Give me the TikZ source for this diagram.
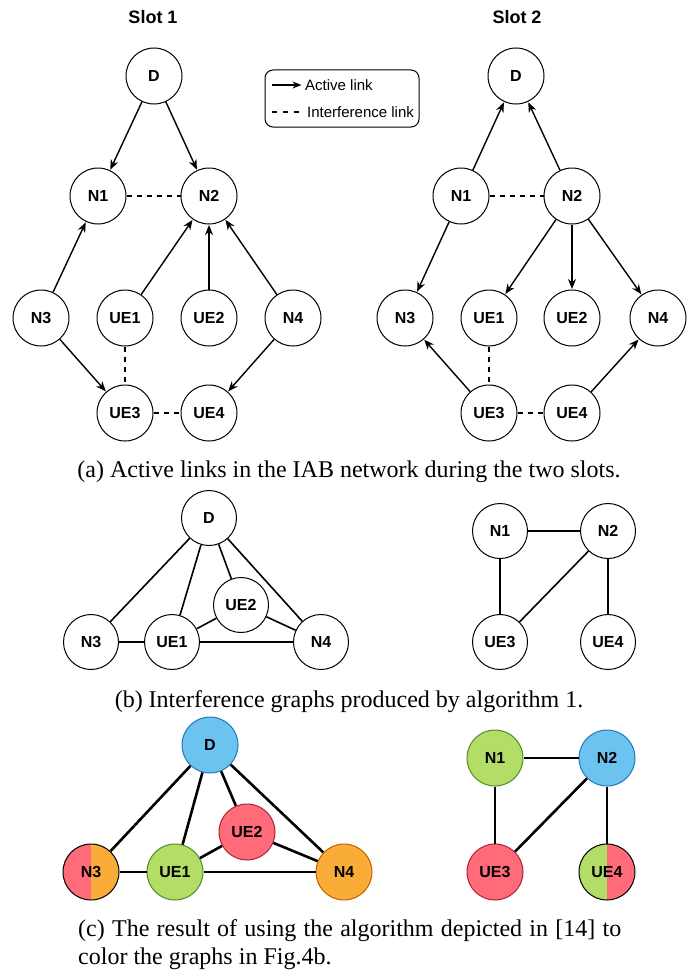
\documentclass[tikz,border=0pt]{standalone}
\usepackage{fontspec}
\setmainfont{Liberation Serif}
\setsansfont{Liberation Sans}
\usetikzlibrary{arrows.meta}
\definecolor{cblue}{HTML}{6CC3EF}
\definecolor{cbluel}{HTML}{1F7AB8}
\definecolor{cred}{HTML}{FF6B78}
\definecolor{credl}{HTML}{B0203A}
\definecolor{cgreen}{HTML}{B4DD67}
\definecolor{cgreenl}{HTML}{4E8F24}
\definecolor{corange}{HTML}{F9AC38}
\definecolor{corangel}{HTML}{C45F00}
\begin{document}
\begin{tikzpicture}[x=1pt,y=-1pt,
  nd/.style={circle, draw, fill=white, minimum size=56pt, inner sep=0pt, line width=1pt,
     font=\sffamily\bfseries\fontsize{16}{16}\selectfont},
  ndb/.style={nd, minimum size=55pt},
  ndc/.style={nd, minimum size=56pt},
  act/.style={-{Stealth[length=10pt,width=8pt]}, line width=1.4pt, shorten >=0.5pt},
  intf/.style={dash pattern=on 5pt off 5pt, line width=1.4pt},
  ed/.style={line width=1.6pt},
  edc/.style={line width=2.6pt},
  slottxt/.style={font=\sffamily\bfseries\fontsize{18}{18}\selectfont},
  captxt/.style={font=\fontsize{24}{28}\selectfont, align=left},
  legtxt/.style={font=\sffamily\fontsize{15}{15}\selectfont, anchor=west, inner sep=0pt},
  bl/.style={fill=cblue, draw=cbluel},
  rd/.style={fill=cred, draw=credl},
  gr/.style={fill=cgreen, draw=cgreenl},
  orn/.style={fill=corange, draw=corangel}
]
\useasboundingbox (0,0) rectangle (697,974);

% ---------- (a) ----------
\node[slottxt] (s1) at (153,17) {Slot 1};
\node[slottxt] (s2) at (517,17) {Slot 2};

% slot 1
\node[nd] (aD) at (154,76) {D};
\node[nd] (aN1) at (98,196) {N1};
\node[nd] (aN2) at (209,196) {N2};
\node[nd] (aN3) at (41,318) {N3};
\node[nd] (aUE1) at (125,318) {UE1};
\node[nd] (aUE2) at (209,318) {UE2};
\node[nd] (aN4) at (293,318) {N4};
\node[nd] (aUE3) at (125,413) {UE3};
\node[nd] (aUE4) at (209,413) {UE4};

\draw[act] (aD) -- (aN1);
\draw[act] (aD) -- (aN2);
\draw[act] (aN3) -- (aN1);
\draw[act] (aUE1) -- (aN2);
\draw[act] (aUE2) -- (aN2);
\draw[act] (aN4) -- (aN2);
\draw[act] (aN3) -- (aUE3);
\draw[act] (aN4) -- (aUE4);
\draw[intf] (aN1) -- (aN2);
\draw[intf] (aUE1) -- (aUE3);
\draw[intf] (aUE3) -- (aUE4);

% slot 2
\node[nd] (bD) at (516,76) {D};
\node[nd] (bN1) at (461,196) {N1};
\node[nd] (bN2) at (572,196) {N2};
\node[nd] (bN3) at (405,318) {N3};
\node[nd] (bUE1) at (489,318) {UE1};
\node[nd] (bUE2) at (572,318) {UE2};
\node[nd] (bN4) at (658,318) {N4};
\node[nd] (bUE3) at (489,413) {UE3};
\node[nd] (bUE4) at (572,413) {UE4};

\draw[act] (bN1) -- (bD);
\draw[act] (bN2) -- (bD);
\draw[act] (bN1) -- (bN3);
\draw[act] (bN2) -- (bUE1);
\draw[act] (bN2) -- (bUE2);
\draw[act] (bN2) -- (bN4);
\draw[act] (bUE3) -- (bN3);
\draw[act] (bUE4) -- (bN4);
\draw[intf] (bN1) -- (bN2);
\draw[intf] (bUE1) -- (bUE3);
\draw[intf] (bUE3) -- (bUE4);

% legend
\node[draw, rounded corners=8pt, line width=1pt, minimum width=154pt, minimum height=57pt] (legbox) at (342,98.5) {};
\coordinate (la1) at (272,85);
\coordinate (la2) at (302,85);
\draw[act, -{Stealth[length=9pt,width=7pt]}] (la1) -- (la2);
\node[legtxt] (lt1) at (305,85) {Active link};
\coordinate (li1) at (272,112);
\coordinate (li2) at (304,112);
\draw[line width=1.4pt, dash pattern=on 5pt off 6pt] (li1) -- (li2);
\node[legtxt] (lt2) at (307,112) {Interference link};

\node[captxt] (capa) at (349,472) {(a) Active links in the IAB network during the two slots.};

% ---------- (b) ----------
\node[ndb] (cD) at (209,518) {D};
\node[ndb] (cN3) at (91,642) {N3};
\node[ndb] (cUE1) at (172,642) {UE1};
\node[ndb] (cUE2) at (241,605) {UE2};
\node[ndb] (cN4) at (321,642) {N4};
\draw[ed] (cD) -- (cN3);
\draw[ed] (cD) -- (cUE1);
\draw[ed] (cD) -- (cUE2);
\draw[ed] (cD) -- (cN4);
\draw[ed] (cN3) -- (cUE1);
\draw[ed] (cUE1) -- (cUE2);
\draw[ed] (cUE1) -- (cN4);
\draw[ed] (cUE2) -- (cN4);

\node[ndb] (dN1) at (500,531) {N1};
\node[ndb] (dN2) at (608,531) {N2};
\node[ndb] (dUE3) at (500,642) {UE3};
\node[ndb] (dUE4) at (608,642) {UE4};
\draw[ed] (dN1) -- (dN2);
\draw[ed] (dN1) -- (dUE3);
\draw[ed] (dN2) -- (dUE3);
\draw[ed] (dN2) -- (dUE4);

\node[captxt] (capb) at (349,702) {(b) Interference graphs produced by algorithm 1.};

% ---------- (c) ----------
\node[ndc, bl] (eD) at (210,745) {D};
\node[ndc, draw=black, fill=corange, path picture={\fill[cred] (path picture bounding box.south west) rectangle (path picture bounding box.north);}] (eN3) at (91,872) {N3};
\node[ndc, gr] (eUE1) at (175,872) {UE1};
\node[ndc, rd] (eUE2) at (247,832) {UE2};
\node[ndc, orn] (eN4) at (344,872) {N4};
\draw[edc] (eD) -- (eN3);
\draw[edc] (eD) -- (eUE1);
\draw[edc] (eD) -- (eUE2);
\draw[edc] (eD) -- (eN4);
\draw[edc] (eN3) -- (eUE1);
\draw[edc] (eUE1) -- (eUE2);
\draw[edc] (eUE1) -- (eN4);
\draw[edc] (eUE2) -- (eN4);

\node[ndc, gr] (fN1) at (495,758) {N1};
\node[ndc, bl] (fN2) at (607,758) {N2};
\node[ndc, rd] (fUE3) at (495,872) {UE3};
\node[ndc, draw=black, fill=cred, path picture={\fill[cgreen] (path picture bounding box.south west) rectangle (path picture bounding box.north);}] (fUE4) at (607,872) {UE4};
\draw[edc] (fN1) -- (fN2);
\draw[edc] (fN1) -- (fUE3);
\draw[edc] (fN2) -- (fUE3);
\draw[edc] (fN2) -- (fUE4);

\node[captxt, anchor=north west, inner sep=0pt, text width=543pt, align=justify] (capc) at (78,919) {(c) The result of using the algorithm depicted in [14] to color the graphs in Fig.4b.};
\end{tikzpicture}
\end{document}
